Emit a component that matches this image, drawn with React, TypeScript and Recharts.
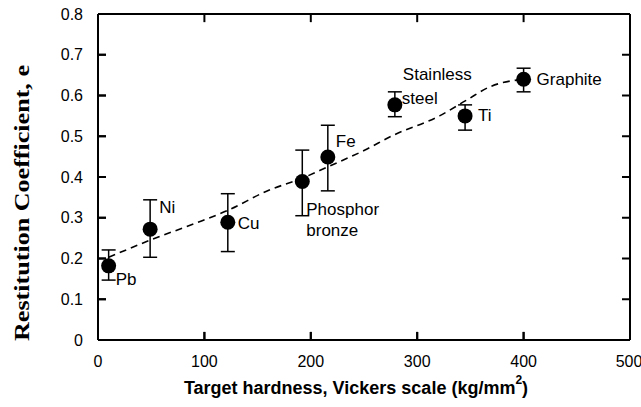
import React from 'react';
import { ComposedChart, XAxis, YAxis, Scatter, Line, ErrorBar, ReferenceLine } from 'recharts';

// materials, hardness (kg/mm2) and measured restitution coefficient
const materials = ['Pb', 'Ni', 'Cu', 'Phosphor bronze', 'Fe', 'Stainless steel', 'Ti', 'Graphite'];
const hardness = [10, 49, 122, 192, 216, 279, 345, 400];
const restitution = [0.182, 0.272, 0.289, 0.389, 0.449, 0.577, 0.55, 0.64];
const errLow = [0.147, 0.203, 0.217, 0.305, 0.366, 0.548, 0.515, 0.609];
const errHigh = [0.221, 0.344, 0.359, 0.466, 0.527, 0.609, 0.577, 0.667];

// dashed trend curve
const trendX = [10, 49, 90, 122, 160, 192, 216, 250, 278, 321, 346, 368, 400];
const trendY = [0.203, 0.245, 0.285, 0.318, 0.367, 0.397, 0.425, 0.465, 0.503, 0.55, 0.588, 0.621, 0.64];

const xTicks = [0, 100, 200, 300, 400, 500];
const yTicks = [0, 0.1, 0.2, 0.3, 0.4, 0.5, 0.6, 0.7, 0.8];

const xMax = 500;
const yMax = 0.8;
// inward tick length, about 8px, in data units
const xTickLen = 7.5;
const yTickLen = 0.02;

const points = materials.map((name, i) => ({
    name,
    x: hardness[i],
    y: restitution[i],
    err: [restitution[i] - errLow[i], errHigh[i] - restitution[i]],
}));
const trend = trendX.map((x, i) => ({ x, y: trendY[i] }));

const sans = '"Liberation Sans", Arial, sans-serif';

// label lines per point: [text, dx, dy]
const labelLines: Record<string, [string, number, number][]> = {
    'Pb': [['Pb', 7, 14]],
    'Ni': [['Ni', 9, -22]],
    'Cu': [['Cu', 10, 1]],
    'Phosphor bronze': [['Phosphor', 4, 28], ['bronze', 4, 49]],
    'Fe': [['Fe', 8, -16]],
    'Stainless steel': [['Stainless', 8, -30], ['steel', 7, -6]],
    'Ti': [['Ti', 13, 0]],
    'Graphite': [['Graphite', 13, 0]],
};

const Dot = (props: any) => {
    const { cx, cy, payload } = props;
    return (
        <g>
            <circle cx={cx} cy={cy} r={7.5} fill="#000" />
            {(labelLines[payload.name] || []).map(([t, dx, dy]) => (
                <text key={t} x={cx + dx} y={cy + dy} dominantBaseline="central" fontFamily={sans} fontSize={17} fill="#000">{t}</text>
            ))}
        </g>
    );
};

const LeftTick = ({ x, y, payload }: any) => (
    <text x={x} y={y} textAnchor="end" dominantBaseline="central" fontFamily={sans} fontSize={16} fill="#000">{payload.value}</text>
);
const BottomTick = ({ x, y, payload }: any) => (
    <text x={x} y={y} textAnchor="middle" dominantBaseline="central" fontFamily={sans} fontSize={16} fill="#000">{payload.value}</text>
);

export default function App() {
    return (
        <div style={{ position: 'absolute', left: 0, top: 0, width: 641, height: 407, background: '#fff' }}>
            <ComposedChart width={641} height={407} margin={{ top: 14, right: 11, bottom: 37, left: 38 }}>
                <XAxis xAxisId="b" dataKey="x" type="number" domain={[0, xMax]} ticks={xTicks} height={30} stroke="#000"
                    tickSize={-8} tickMargin={29} tick={BottomTick}
                    axisLine={{ stroke: '#000', strokeWidth: 2 }} tickLine={{ stroke: '#000', strokeWidth: 2 }} />
                <YAxis yAxisId="l" type="number" domain={[0, yMax]} ticks={yTicks} width={60} stroke="#000"
                    tickSize={-8} tickMargin={23} tick={LeftTick}
                    axisLine={{ stroke: '#000', strokeWidth: 2 }} tickLine={{ stroke: '#000', strokeWidth: 2 }} />

                {/* box around the plot */}
                <ReferenceLine xAxisId="b" yAxisId="l" x={0} stroke="#000" strokeWidth={2} ifOverflow="visible" />
                <ReferenceLine xAxisId="b" yAxisId="l" x={xMax} stroke="#000" strokeWidth={2} ifOverflow="visible" />
                <ReferenceLine xAxisId="b" yAxisId="l" y={0} stroke="#000" strokeWidth={2} ifOverflow="visible" />
                <ReferenceLine xAxisId="b" yAxisId="l" y={yMax} stroke="#000" strokeWidth={2} ifOverflow="visible" />

                {/* inward ticks on all four sides */}
                {xTicks.map((t) => (
                    <ReferenceLine key={'xb' + t} xAxisId="b" yAxisId="l" ifOverflow="visible" stroke="#000" strokeWidth={2}
                        segment={[{ x: t, y: 0 }, { x: t, y: yTickLen }]} />
                ))}
                {xTicks.map((t) => (
                    <ReferenceLine key={'xt' + t} xAxisId="b" yAxisId="l" ifOverflow="visible" stroke="#000" strokeWidth={2}
                        segment={[{ x: t, y: yMax }, { x: t, y: yMax - yTickLen }]} />
                ))}
                {yTicks.map((t) => (
                    <ReferenceLine key={'yl' + t} xAxisId="b" yAxisId="l" ifOverflow="visible" stroke="#000" strokeWidth={2}
                        segment={[{ x: 0, y: t }, { x: xTickLen, y: t }]} />
                ))}
                {yTicks.map((t) => (
                    <ReferenceLine key={'yr' + t} xAxisId="b" yAxisId="l" ifOverflow="visible" stroke="#000" strokeWidth={2}
                        segment={[{ x: xMax, y: t }, { x: xMax - xTickLen, y: t }]} />
                ))}

                <Line data={trend} xAxisId="b" yAxisId="l" dataKey="y" type="monotone" stroke="#000" strokeWidth={1.6}
                    strokeDasharray="7 5" dot={false} isAnimationActive={false} />
                <Scatter data={points} xAxisId="b" yAxisId="l" dataKey="y" fill="#000" shape={Dot} isAnimationActive={false}>
                    <ErrorBar dataKey="err" direction="y" width={7} stroke="#000" strokeWidth={1.5} isAnimationActive={false} />
                </Scatter>
            </ComposedChart>
            {/* axis titles */}
            <svg width={641} height={407} style={{ position: 'absolute', left: 0, top: 0, pointerEvents: 'none' }}>
                <text x={356} y={388} textAnchor="middle" dominantBaseline="central" fontFamily={sans} fontWeight="bold" fontSize={18} fill="#000">
                    Target hardness, Vickers scale (kg/mm<tspan dy={-8} fontSize={12}>2</tspan><tspan dy={8}>)</tspan>
                </text>
                <text x={22} y={203} transform="rotate(-90 22 203)" textAnchor="middle" dominantBaseline="central"
                    fontFamily='"Liberation Serif", "Times New Roman", serif' fontWeight="bold" fontSize={21} fill="#000"
                    textLength={276} lengthAdjust="spacingAndGlyphs">
                    Restitution Coefficient, e
                </text>
            </svg>
        </div>
    );
}
